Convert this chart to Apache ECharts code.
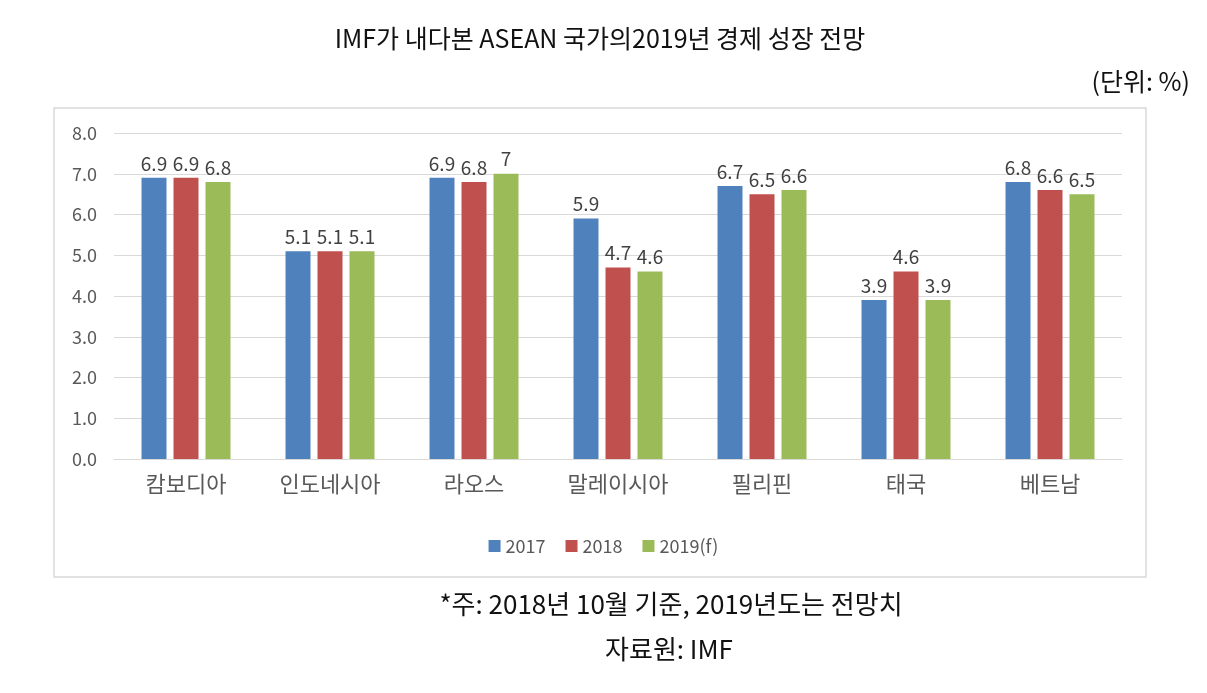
<!DOCTYPE html>
<html>
<head>
<meta charset="utf-8">
<title>ASEAN 경제 성장 전망</title>
<script src="https://cdn.jsdelivr.net/npm/echarts@6/dist/echarts.min.js"></script>
<style>
  html, body { margin: 0; padding: 0; background: #fff; }
  #main { width: 1207px; height: 693px; }
</style>
</head>
<body>
<div id="main"></div>
<script>
var countries = ['캄보디아', '인도네시아', '라오스', '말레이시아', '필리핀', '태국', '베트남'];
var years = ['2017', '2018', '2019(f)'];
var v2017 = [6.9, 5.1, 6.9, 5.9, 6.7, 3.9, 6.8];
var v2018 = [6.9, 5.1, 6.8, 4.7, 6.5, 4.6, 6.6];
var v2019 = [6.8, 5.1, 7, 4.6, 6.6, 3.9, 6.5];
var colors = ['#4F81BD', '#C0504D', '#9BBB59'];

var font = '"Noto Sans CJK KR", "Noto Sans", sans-serif';
var chart = echarts.init(document.getElementById('main'));

function bar(name, data, i) {
  return {
    name: name,
    type: 'bar',
    data: data,
    barWidth: 25,
    barGap: '28%',
    itemStyle: { color: colors[i] },
    label: {
      show: true,
      position: 'top',
      distance: 5,
      color: '#404040',
      fontSize: 19,
      fontFamily: font
    }
  };
}

chart.setOption({
  animation: false,
  textStyle: { fontFamily: font },
  graphic: [
    {
      type: 'rect',
      shape: { x: 54, y: 108, width: 1092, height: 469 },
      style: { fill: 'none', stroke: '#d9d9d9', lineWidth: 1.5 }
    },
    {
      type: 'text', x: 600, y: 26,
      style: { text: 'IMF가 내다본 ASEAN 국가의2019년 경제 성장 전망', fontSize: 25, fill: '#111', fontFamily: font, align: 'center' }
    },
    {
      type: 'text', x: 1190, y: 69,
      style: { text: '(단위: %)', fontSize: 25, fill: '#111', fontFamily: font, align: 'right' }
    },
    {
      type: 'text', x: 671, y: 591,
      style: { text: '*주: 2018년 10월 기준, 2019년도는 전망치', fontSize: 26, fill: '#111', fontFamily: font, align: 'center' }
    },
    {
      type: 'text', x: 669, y: 636,
      style: { text: '자료원: IMF', fontSize: 26, fill: '#111', fontFamily: font, align: 'center' }
    }
  ],
  grid: { left: 114, right: 85, top: 133, bottom: 234 },
  legend: {
    data: years,
    top: 532,
    left: 'center',
    itemWidth: 12,
    itemHeight: 12,
    itemGap: 20,
    icon: 'rect',
    textStyle: { fontSize: 18, color: '#595959', fontFamily: font }
  },
  xAxis: {
    type: 'category',
    data: countries,
    axisLine: { lineStyle: { color: '#d9d9d9' } },
    axisTick: { show: false },
    axisLabel: { fontSize: 22, color: '#595959', margin: 14, fontFamily: font }
  },
  yAxis: {
    type: 'value',
    min: 0,
    max: 8,
    interval: 1,
    axisLine: { show: false },
    axisTick: { show: false },
    splitLine: { lineStyle: { color: '#d9d9d9' } },
    axisLabel: {
      fontSize: 18, color: '#595959', margin: 17, fontFamily: font,
      formatter: function (v) { return v.toFixed(1); }
    }
  },
  series: [bar(years[0], v2017, 0), bar(years[1], v2018, 1), bar(years[2], v2019, 2)]
});
</script>
</body>
</html>
